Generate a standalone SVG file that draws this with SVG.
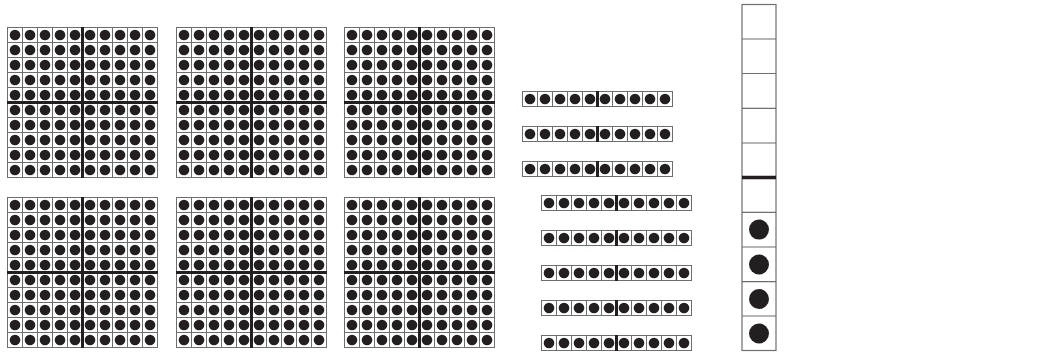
<svg xmlns="http://www.w3.org/2000/svg" xmlns:xlink="http://www.w3.org/1999/xlink" width="1054" height="356" viewBox="0 0 1054 356">
<style>
.frame{fill:none;stroke:#6e6e6e;stroke-width:1}
.thick{stroke:#231f20;stroke-width:3}
.dot{fill:#231f20}
.cline{stroke:#6e6e6e;stroke-width:1.2}
</style>
<defs>
<pattern id="cell" width="15" height="15" patternUnits="userSpaceOnUse">
<rect width="15" height="15" fill="#fff"/>
<path d="M0 0.5H15M0.5 0V15" stroke="#6e6e6e" stroke-width="1"/>
<circle cx="8" cy="8" r="5.3" fill="#231f20"/>
</pattern>
<g id="hundred">
<rect x="0" y="0" width="151" height="151" fill="url(#cell)"/>
<rect class="frame" x="0.5" y="0.5" width="150" height="150"/>
<path class="thick" d="M75.5 0V151M0 75.5H151"/>
</g>
<g id="ten">
<rect x="0" y="0" width="151" height="16" fill="url(#cell)"/>
<rect class="frame" x="0.5" y="0.5" width="150" height="15"/>
<path class="thick" d="M75.5 0V16"/>
</g>
</defs>
<rect width="1054" height="356" fill="#fff"/>
<g id="grid1" transform="translate(7,27)"><use xlink:href="#hundred"/></g>
<g id="grid2" transform="translate(176,27)"><use xlink:href="#hundred"/></g>
<g id="grid3" transform="translate(344,27)"><use xlink:href="#hundred"/></g>
<g id="grid4" transform="translate(7,197)"><use xlink:href="#hundred"/></g>
<g id="grid5" transform="translate(176,197)"><use xlink:href="#hundred"/></g>
<g id="grid6" transform="translate(344,197)"><use xlink:href="#hundred"/></g>
<g id="bar1" transform="translate(522,91)"><use xlink:href="#ten"/></g>
<g id="bar2" transform="translate(522,126)"><use xlink:href="#ten"/></g>
<g id="bar3" transform="translate(522,161)"><use xlink:href="#ten"/></g>
<g id="bar4" transform="translate(541,195)"><use xlink:href="#ten"/></g>
<g id="bar5" transform="translate(541,230)"><use xlink:href="#ten"/></g>
<g id="bar6" transform="translate(541,265)"><use xlink:href="#ten"/></g>
<g id="bar7" transform="translate(541,300)"><use xlink:href="#ten"/></g>
<g id="bar8" transform="translate(541,335)"><use xlink:href="#ten"/></g>
<g id="column">
<rect x="742" y="4.5" width="34" height="346" fill="#fff" stroke="#6e6e6e" stroke-width="1.2"/>
<path class="cline" d="M742 39H776M742 73.5H776M742 108.3H776M742 143H776M742 212.3H776M742 247H776M742 281.7H776M742 316H776"/>
<path d="M742 177.5H776" stroke="#231f20" stroke-width="3.5"/>
<circle class="dot" cx="759" cy="229.6" r="10"/>
<circle class="dot" cx="759" cy="264.5" r="10"/>
<circle class="dot" cx="759" cy="299" r="10"/>
<circle class="dot" cx="759" cy="333.5" r="10"/>
</g>
<g id="connectors"></g>
</svg>
